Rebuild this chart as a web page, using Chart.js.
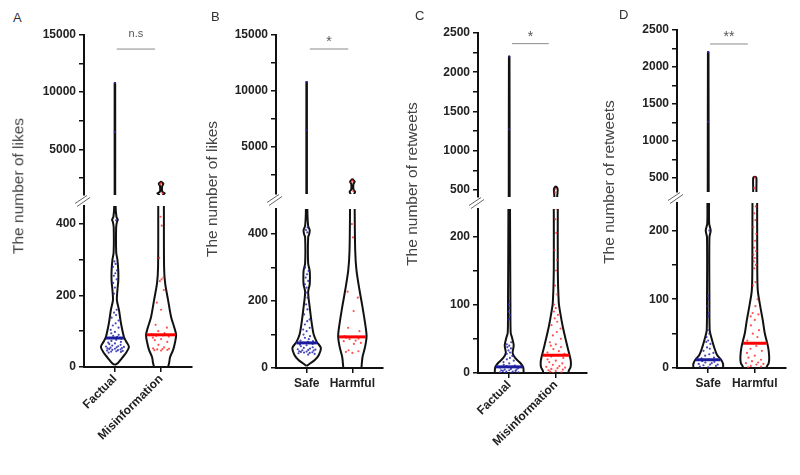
<!DOCTYPE html>
<html>
<head>
<meta charset="utf-8">
<script src="https://cdn.jsdelivr.net/npm/chart.js@4.4.1/dist/chart.umd.min.js"></script>
<style>
  body { margin: 0; background: #fff; }
  #wrap { position: relative; width: 800px; height: 475px; overflow: hidden; font-family: 'Liberation Sans', Arial, sans-serif; }
  #wrap canvas { position: absolute; }
  .letter { position: absolute; font-size: 13px; line-height: 1; color: #333; }
  .ytitle { position: absolute; font-size: 15.5px; line-height: 1; color: #444; white-space: nowrap; transform: translate(-50%, -50%) rotate(-90deg); }
</style>
</head>
<body>
<div id="wrap"></div>
<script>
// categories
const catsAC = ['Factual', 'Misinformation'];
const catsBD = ['Safe', 'Harmful'];

// one value per tweet (dots)
const likesFactual = [10800, 6500, 410, 295, 288, 280, 270, 262, 255, 245, 235, 222, 205, 160, 152, 145, 138, 130, 122, 116, 110, 104, 98, 94, 90, 87, 84, 81, 79, 76, 73, 70, 68, 66, 64, 62, 60, 58, 57, 56, 55, 54, 53, 52, 51, 50, 49, 48, 47, 46, 45, 44, 43, 42, 40];
const likesMisinfo = [2050, 1950, 1150, 420, 395, 305, 250, 245, 240, 215, 180, 160, 118, 110, 100, 95, 92, 90, 88, 87, 85, 82, 78, 75, 70, 62, 55, 52, 51, 50, 49, 48, 47, 46];
const likesSafe = [10800, 6500, 420, 412, 405, 300, 290, 280, 270, 260, 250, 240, 225, 210, 190, 175, 160, 145, 140, 130, 120, 115, 110, 100, 95, 90, 86, 82, 80, 78, 75, 72, 70, 68, 65, 62, 60, 58, 56, 55, 54, 53, 52, 50, 49, 48, 47, 46, 45, 44, 42, 40];
const likesHarmful = [2000, 1850, 1050, 430, 390, 228, 210, 170, 120, 110, 95, 92, 90, 88, 86, 82, 80, 75, 72, 53, 50, 48, 45];
const rtFactual = [2200, 1270, 105, 100, 95, 90, 85, 80, 78, 45, 42, 40, 38, 36, 33, 30, 28, 25, 22, 20, 18, 16, 14, 12, 11, 10, 9, 8, 7, 6, 5, 5, 4, 4, 3, 3, 2, 2, 1, 1, 0, 0];
const rtMisinfo = [515, 470, 240, 225, 205, 180, 165, 150, 128, 115, 100, 95, 90, 85, 80, 75, 70, 65, 60, 55, 50, 45, 42, 40, 38, 35, 32, 30, 28, 26, 24, 22, 20, 18, 16, 14, 12, 10, 9, 8, 7, 6, 5, 4, 3, 2, 1, 0];
const rtSafe = [2200, 1260, 200, 105, 100, 90, 80, 75, 55, 50, 45, 40, 38, 35, 30, 28, 25, 22, 20, 18, 15, 14, 12, 10, 9, 8, 7, 6, 5, 5, 4, 3, 2, 1, 0];
const rtHarmful = [505, 365, 235, 225, 215, 205, 195, 185, 175, 170, 165, 160, 155, 150, 145, 125, 120, 100, 90, 80, 78, 75, 70, 62, 55, 50, 45, 40, 36, 32, 28, 25, 22, 18, 15, 12, 10, 8, 7, 6, 5, 3, 2, 1];

// medians
const medianA = [81, 90];
const medianB = [75, 93];
const medianC = [9, 26];
const medianD = [12, 36];

// violin density profiles: value levels and half widths (category units)
const violA0Lv = [6, 11, 25, 39, 56, 70, 84, 123, 160, 187, 215, 240, 270, 300, 320, 390, 405, 412, 420, 450, 1000, 10800];
const violA0Hw = [0, .065, .152, .239, .304, .25, .196, .13, .087, .043, .054, .072, .072, .054, .028, .026, .043, .061, .033, .015, .006, .006];
const violA1Lv = [-20, 0, 11, 28, 48, 70, 90, 112, 140, 187, 235, 280, 450, 1000, 1150, 1300, 1800, 1980, 2100, 2150];
const violA1Hw = [.141, .152, .174, .196, .261, .304, .326, .283, .217, .152, .087, .065, .061, .04, .08, .025, .025, .05, .02, .012];
const violB0Lv = [6, 15, 24, 39, 60, 78, 99, 134, 182, 227, 250, 290, 313, 390, 400, 412, 425, 475, 1000, 10800];
const violB0Hw = [0, .089, .178, .267, .311, .222, .156, .111, .067, .033, .067, .067, .033, .033, .056, .067, .033, .016, .006, .006];
const violB1Lv = [-20, 3, 33, 63, 95, 134, 182, 233, 293, 352, 475, 800, 1000, 1200, 1700, 1900, 2050, 2100];
const violB1Hw = [.189, .2, .222, .278, .311, .278, .222, .156, .089, .062, .051, .04, .06, .025, .025, .05, .02, .012];
const violC0Lv = [-10, 3, 9, 15, 22, 29, 35, 41, 51, 59, 100, 240, 410, 2200];
const violC0Hw = [.309, .309, .298, .234, .128, .074, .085, .096, .064, .032, .026, .017, .01, .006];
const violC1Lv = [-10, 3, 9, 19, 34, 49, 68, 88, 103, 151, 240, 410, 510, 540];
const violC1Hw = [.255, .277, .319, .319, .266, .213, .149, .096, .064, .043, .043, .03, .04, .012];
const violD0Lv = [-10, 1.5, 6, 12, 19, 30, 45, 55, 100, 190, 200, 210, 240, 310, 2200];
const violD0Hw = [.319, .319, .319, .277, .191, .128, .064, .032, .026, .026, .053, .021, .017, .01, .006];
const violD1Lv = [-10, 1.5, 7, 16, 30, 51, 70, 94, 113, 142, 240, 310, 500, 515];
const violD1Hw = [.245, .255, .298, .309, .287, .213, .17, .106, .064, .053, .05, .035, .035, .015];

// y ticks and their labels (broken axis: upper / lower part)
const likesTicksHi = [2500, 5000, 7500, 10000, 12500, 15000];
const likesLabelsHi = ['', '5000', '', '10000', '', '15000'];
const likesTicksLo = [0, 100, 200, 300, 400];
const likesLabelsLo = ['0', '', '200', '', '400'];
const rtTicksHi = [500, 750, 1000, 1250, 1500, 1750, 2000, 2250, 2500];
const rtLabelsHi = ['500', '', '1000', '', '1500', '', '2000', '', '2500'];
const rtTicksLo = [0, 50, 100, 150, 200];
const rtLabelsLo = ['0', '', '100', '', '200'];

// significance bars
const sigText = ['n.s', '*', '*', '**'];
const sigLevel = [13770, 13750, 2364, 2311];
const sigFrom = [0.04, 0.07, 0.06, 0.04];
const sigTo = [0.87, 0.91, 0.85, 0.85];

const AXIS_W = 60, PAD = 12, PAD_R = 8, X_H = 100;
const X_MIN = -0.67, X_MAX = 1.67;
const BLUE_DOT = 'rgba(40,40,170,0.85)', RED_DOT = 'rgba(255,40,40,0.8)';
const BLUE_MED = '#1c1c9e', RED_MED = '#ff0000';

Chart.defaults.font.family = "'Liberation Sans', Arial, sans-serif";

const panels = [
  { letter: 'A', letterPos: [13, 11], title: 'The number of likes', titlePos: [18, 186],
    cats: catsAC, rot: 45, vals: [likesFactual, likesMisinfo], med: medianA,
    prof: [[violA0Lv, violA0Hw], [violA1Lv, violA1Hw]],
    ticksHi: likesTicksHi, labelsHi: likesLabelsHi, ticksLo: likesTicksLo, labelsLo: likesLabelsLo,
    axisX: 84, right: 192, hi: { top: 35, bottom: 195, min: 1000, max: 15000 }, lo: { top: 206, bottom: 367, min: 0, max: 450 } },
  { letter: 'B', letterPos: [211, 10], title: 'The number of likes', titlePos: [212, 189],
    cats: catsBD, rot: 0, vals: [likesSafe, likesHarmful], med: medianB,
    prof: [[violB0Lv, violB0Hw], [violB1Lv, violB1Hw]],
    ticksHi: likesTicksHi, labelsHi: likesLabelsHi, ticksLo: likesTicksLo, labelsLo: likesLabelsLo,
    axisX: 276, right: 383, hi: { top: 35, bottom: 194, min: 800, max: 15000 }, lo: { top: 209, bottom: 368, min: 0, max: 475 } },
  { letter: 'C', letterPos: [415, 9], title: 'The number of retweets', titlePos: [412, 184],
    cats: catsAC, rot: 45, vals: [rtFactual, rtMisinfo], med: medianC,
    prof: [[violC0Lv, violC0Hw], [violC1Lv, violC1Hw]],
    ticksHi: rtTicksHi, labelsHi: rtLabelsHi, ticksLo: rtTicksLo, labelsLo: rtLabelsLo,
    axisX: 478, right: 587, hi: { top: 33, bottom: 197, min: 410, max: 2500 }, lo: { top: 209, bottom: 373, min: 0, max: 240 } },
  { letter: 'D', letterPos: [619, 8], title: 'The number of retweets', titlePos: [609, 182],
    cats: catsBD, rot: 0, vals: [rtSafe, rtHarmful], med: medianD,
    prof: [[violD0Lv, violD0Hw], [violD1Lv, violD1Hw]],
    ticksHi: rtTicksHi, labelsHi: rtLabelsHi, ticksLo: rtTicksLo, labelsLo: rtLabelsLo,
    axisX: 677, right: 786, hi: { top: 30, bottom: 192, min: 310, max: 2500 }, lo: { top: 203, bottom: 368, min: 0, max: 240 } }
];

// half width of a violin at value v (linear between profile levels)
function widthAt(lv, hw, v) {
  if (v <= lv[0]) return hw[0];
  for (let i = 1; i < lv.length; i++) {
    if (v <= lv[i]) {
      const t = (v - lv[i - 1]) / (lv[i] - lv[i - 1]);
      return hw[i - 1] + t * (hw[i] - hw[i - 1]);
    }
  }
  return hw[hw.length - 1];
}

function outline(c, lv, hw) {
  const left = lv.map((v, i) => ({ x: c - hw[i], y: v }));
  const right = lv.map((v, i) => ({ x: c + hw[i], y: v })).reverse();
  return left.concat(right);
}

// spread of the dots inside the violin
const spread = [0, -0.55, 0.55, -0.25, 0.3, -0.8, 0.8, 0.15, -0.4, 0.65, -0.7];
function dots(vals, c, lv, hw) {
  return vals.map((v, i) => ({ x: c + spread[i % spread.length] * 0.8 * widthAt(lv, hw, v), y: v }));
}

function buildDatasets(p, withSig, idx) {
  const ds = [];
  [0, 1].forEach(k => {
    const [lv, hw] = p.prof[k];
    const w = widthAt(lv, hw, p.med[k]) - 0.012;
    ds.push({ data: [{ x: k - w, y: p.med[k] }, { x: k + w, y: p.med[k] }], showLine: true, pointRadius: 0,
      borderColor: k ? RED_MED : BLUE_MED, borderWidth: 3, order: 0 });
    ds.push({ data: dots(p.vals[k], k, lv, hw), pointRadius: 1.1, pointBorderWidth: 0,
      pointBackgroundColor: k ? RED_DOT : BLUE_DOT, order: 1 });
    ds.push({ data: outline(k, lv, hw), showLine: true, pointRadius: 0, borderColor: '#111', borderWidth: 2,
      tension: 0.3, order: 2 });
  });
  if (withSig) {
    ds.push({ data: [{ x: sigFrom[idx], y: sigLevel[idx] }, { x: sigTo[idx], y: sigLevel[idx] }], showLine: true,
      pointRadius: 0, borderColor: '#8a8a8a', borderWidth: 1, order: 3 });
  }
  return ds;
}

function yScale(range, ticks, labels) {
  return {
    min: range.min, max: range.max, position: 'left', z: 1,
    afterBuildTicks: s => { s.ticks = ticks.map(v => ({ value: v })); },
    afterFit: s => { s.width = AXIS_W; },
    border: { display: true, color: '#111', width: 2 },
    grid: { drawOnChartArea: false, drawTicks: true, tickLength: 5, color: '#111', lineWidth: 1.5 },
    ticks: { autoSkip: false, padding: 3, color: '#222', font: { size: 12, weight: 'bold' },
      callback: (v, i) => labels[i] }
  };
}

function xScale(p, show) {
  return {
    type: 'linear', min: X_MIN, max: X_MAX, display: show, z: 1,
    afterBuildTicks: s => { s.ticks = [{ value: 0 }, { value: 1 }]; },
    afterFit: s => { s.height = show ? X_H : 0; },
    border: { display: true, color: '#111', width: 2 },
    grid: { drawOnChartArea: false, drawTicks: true, tickLength: 5, color: '#111', lineWidth: 1.5 },
    ticks: { autoSkip: false, minRotation: p.rot, maxRotation: p.rot, padding: p.rot ? 0 : 3, color: '#222',
      font: { size: 12, weight: 'bold' }, callback: (v, i) => p.cats[i] }
  };
}

// the // marks across the axis gap, and the significance text
function upperPlugin(idx) {
  return {
    id: 'upperMarks',
    afterDraw(chart) {
      const { ctx, chartArea: a, scales } = chart;
      ctx.save();
      ctx.strokeStyle = '#666';
      ctx.lineWidth = 1;
      ctx.beginPath();
      ctx.moveTo(a.left - 9, a.bottom + 8.5); ctx.lineTo(a.left + 3, a.bottom + 0.5);
      ctx.moveTo(a.left - 7, a.bottom + 11.5); ctx.lineTo(a.left + 6, a.bottom + 2.5);
      ctx.stroke();
      const px = scales.x.getPixelForValue((sigFrom[idx] + sigTo[idx]) / 2);
      const py = scales.y.getPixelForValue(sigLevel[idx]);
      const isNs = sigText[idx] === 'n.s';
      ctx.fillStyle = '#555';
      ctx.font = (isNs ? '11px' : '14px') + " 'Liberation Sans', Arial, sans-serif";
      ctx.textAlign = 'center';
      ctx.textBaseline = 'alphabetic';
      ctx.fillText(sigText[idx], px, py - (isNs ? 12 : 3));
      ctx.restore();
    }
  };
}

const wrap = document.getElementById('wrap');

function addCanvas(left, top, w, h) {
  const cv = document.createElement('canvas');
  cv.width = w; cv.height = h;
  cv.style.left = left + 'px'; cv.style.top = top + 'px';
  cv.style.width = w + 'px'; cv.style.height = h + 'px';
  wrap.appendChild(cv);
  return cv;
}

panels.forEach((p, idx) => {
  const cw = AXIS_W + (p.right - p.axisX) + PAD_R;

  // upper part of the broken axis
  const hiH = Math.round(p.hi.bottom - p.hi.top) + 2 * PAD;
  const cvHi = addCanvas(p.axisX - AXIS_W, Math.round(p.hi.top) - PAD, cw, hiH);
  new Chart(cvHi, {
    type: 'scatter',
    data: { datasets: buildDatasets(p, true, idx) },
    options: {
      responsive: false, animation: false, events: [],
      layout: { padding: { left: 0, right: PAD_R, top: PAD, bottom: PAD } },
      plugins: { legend: { display: false }, tooltip: { enabled: false } },
      elements: { line: { capBezierPoints: false } },
      scales: { x: xScale(p, false), y: yScale(p.hi, p.ticksHi, p.labelsHi) }
    },
    plugins: [upperPlugin(idx)]
  });

  // lower part with the category axis
  const loH = Math.round(p.lo.bottom - p.lo.top) + PAD + X_H + 4;
  const cvLo = addCanvas(p.axisX - AXIS_W, Math.round(p.lo.top) - PAD, cw, loH);
  new Chart(cvLo, {
    type: 'scatter',
    data: { datasets: buildDatasets(p, false, idx) },
    options: {
      responsive: false, animation: false, events: [],
      layout: { padding: { left: 0, right: PAD_R, top: PAD, bottom: 4 } },
      plugins: { legend: { display: false }, tooltip: { enabled: false } },
      elements: { line: { capBezierPoints: false } },
      scales: { x: xScale(p, true), y: yScale(p.lo, p.ticksLo, p.labelsLo) }
    }
  });

  const lt = document.createElement('div');
  lt.className = 'letter';
  lt.textContent = p.letter;
  lt.style.left = p.letterPos[0] + 'px';
  lt.style.top = p.letterPos[1] + 'px';
  wrap.appendChild(lt);

  const tt = document.createElement('div');
  tt.className = 'ytitle';
  tt.textContent = p.title;
  tt.style.left = p.titlePos[0] + 'px';
  tt.style.top = p.titlePos[1] + 'px';
  wrap.appendChild(tt);
});
</script>
</body>
</html>
